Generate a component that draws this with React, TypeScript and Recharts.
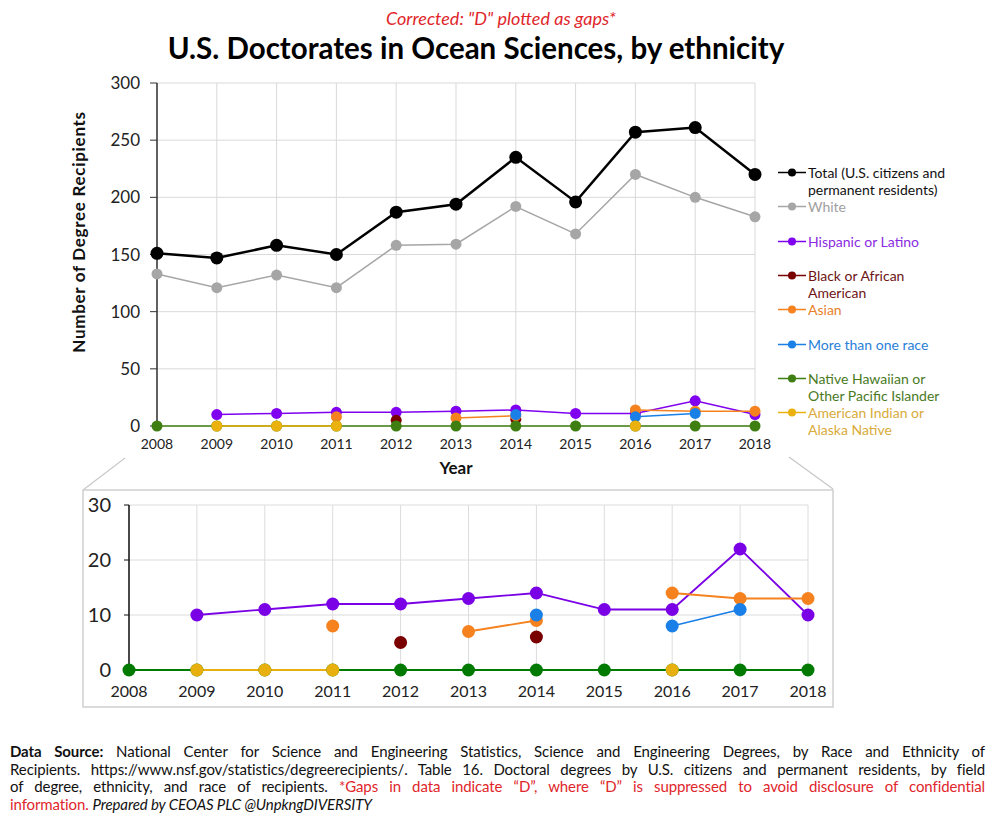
import React from 'react';
import { LineChart, Line, XAxis, YAxis, CartesianGrid, Label } from 'recharts';

const years = [2008, 2009, 2010, 2011, 2012, 2013, 2014, 2015, 2016, 2017, 2018];
const total = [151, 147, 158, 150, 187, 194, 235, 196, 257, 261, 220];
const white = [133, 121, 132, 121, 158, 159, 192, 168, 220, 200, 183];
const hispanic = [null, 10, 11, 12, 12, 13, 14, 11, 11, 22, 10];
const black = [null, null, null, null, 5, null, 6, null, null, null, null];
const asian = [null, null, null, 8, null, 7, 9, null, 14, 13, 13];
const multiRace = [null, null, null, null, null, null, 10, null, 8, 11, null];
const hawaiian = [0, 0, 0, 0, 0, 0, 0, 0, 0, 0, 0];
const amIndian = [null, 0, 0, 0, null, null, null, null, 0, null, null];

const topTicks = [0, 50, 100, 150, 200, 250, 300];
const zoomTicks = [0, 10, 20, 30];

const FONT = 'Lato, "Open Sans", sans-serif';

// series: key, legend label lines, line colour, legend text colour
const SERIES = [
  { key: 'total', label: ['Total (U.S. citizens and', 'permanent residents)'], color: '#000000', text: '#111111', width: 2.5 },
  { key: 'white', label: ['White'], color: '#a6a6a6', text: '#a0a0a0', width: 1.5 },
  { key: 'hispanic', label: ['Hispanic or Latino'], color: '#8000f0', text: '#8a2be2', width: 1.5 },
  { key: 'black', label: ['Black or African', 'American'], color: '#7a0000', text: '#6e1414', width: 1.5 },
  { key: 'asian', label: ['Asian'], color: '#f5821f', text: '#e8802a', width: 1.5 },
  { key: 'multi', label: ['More than one race'], color: '#1a7fe6', text: '#2a7fd8', width: 1.5 },
  { key: 'hawaiian', label: ['Native Hawaiian or', 'Other Pacific Islander'], color: '#3f7f12', text: '#4a7a1e', width: 1.5 },
  { key: 'amIndian', label: ['American Indian or', 'Alaska Native'], color: '#ebb20f', text: '#d8ab3a', width: 1.5 },
];

const rows = years.map((year, i) => ({
  year,
  total: total[i],
  white: white[i],
  hispanic: hispanic[i],
  black: black[i],
  asian: asian[i],
  multi: multiRace[i],
  hawaiian: hawaiian[i],
  amIndian: amIndian[i],
}));

const zoomColors: { [k: string]: string } = {
  hispanic: '#7a00e6',
  black: '#7a0000',
  asian: '#f5821f',
  multi: '#1a7fe6',
  hawaiian: '#007a00',
  amIndian: '#e8b00f',
};

const YTitle = (props: any) => {
  const { viewBox } = props;
  const x = viewBox.x - 19;
  const y = 232;
  return (
    <text x={x} y={y} transform={`rotate(-90 ${x} ${y})`} textAnchor="middle" dominantBaseline="central"
      fontFamily={FONT} fontWeight={700} fontSize={17} letterSpacing={0.7} fill="#111">
      Number of Degree Recipients
    </text>
  );
};

const XTitle = (props: any) => {
  const { viewBox } = props;
  const x = viewBox.x + viewBox.width / 2;
  const y = viewBox.y + 41;
  return (
    <text x={x} y={y} textAnchor="middle" dominantBaseline="central" fontFamily={FONT} fontWeight={700} fontSize={17} fill="#111">
      Year
    </text>
  );
};

export default function App() {
  return (
    <div style={{ position: 'absolute', left: 0, top: 0, width: 1000, height: 820, background: '#fff', fontFamily: FONT, overflow: 'hidden' }}>
      <div style={{ position: 'absolute', left: 0, width: 1002, top: 7, textAlign: 'center', color: '#e0262b', fontStyle: 'italic', fontSize: 18, lineHeight: '22px' }}>
        Corrected: "D" plotted as gaps*
      </div>
      <div style={{ position: 'absolute', left: 0, width: 952, top: 31, textAlign: 'center', color: '#000', fontWeight: 700, fontSize: 29.5, lineHeight: '34px' }}>
        U.S. Doctorates in Ocean Sciences, by ethnicity
      </div>

      {/* zoom box and connector lines */}
      <svg width={1000} height={820} style={{ position: 'absolute', left: 0, top: 0 }}>
        <line x1={83} y1={490} x2={125} y2={458} stroke="#c8c8c8" strokeWidth={1.2} />
        <line x1={789} y1={457} x2={833} y2={489} stroke="#c8c8c8" strokeWidth={1.2} />
        <rect x={83} y={490} width={750} height={217} fill="none" stroke="#cfcfcf" strokeWidth={1.5} />
      </svg>

      <div style={{ position: 'absolute', left: 0, top: 0 }}>
        <LineChart width={1000} height={480} data={rows} margin={{ top: 83, right: 245, left: 97, bottom: 24 }}>
          <CartesianGrid stroke="#d9d9d9" strokeWidth={1} />
          <XAxis type="number" dataKey="year" domain={[2008, 2018]} ticks={years} axisLine={false} tickLine={false}
            tickSize={6} tickMargin={7} height={30} tick={{ fontSize: 14, fill: '#222', fontFamily: FONT }}>
            <Label content={<XTitle />} />
          </XAxis>
          <YAxis domain={[0, 300]} ticks={topTicks} width={60} stroke="#333" tickSize={7} tickMargin={10}
            tick={{ fontSize: 17, fill: '#222', fontFamily: FONT }} axisLine={{ stroke: '#333', strokeWidth: 1.5 }}>
            <Label content={<YTitle />} />
          </YAxis>
          {SERIES.map((s) => (
            <Line key={s.key} dataKey={s.key} stroke={s.color} strokeWidth={s.width} isAnimationActive={false}
              dot={{ r: s.key === 'total' ? 6.5 : 5.5, fill: s.color, stroke: s.color, strokeWidth: 0 }} activeDot={false} />
          ))}
        </LineChart>
      </div>

      <div style={{ position: 'absolute', left: 0, top: 480 }}>
        <LineChart width={1000} height={240} data={rows} margin={{ top: 25, right: 192, left: 69, bottom: 20 }}>
          <CartesianGrid stroke="#dcdcdc" strokeWidth={1} />
          <XAxis type="number" dataKey="year" domain={[2008, 2018]} ticks={years} axisLine={false} tickLine={false}
            tickSize={6} tickMargin={10} height={30} tick={{ fontSize: 16, fill: '#222', fontFamily: FONT }} />
          <YAxis domain={[0, 30]} ticks={zoomTicks} width={60} stroke="#111" tickSize={5} tickMargin={13}
            tick={{ fontSize: 20, fill: '#222', fontFamily: FONT }} axisLine={{ stroke: '#111', strokeWidth: 1.5 }} />
          {SERIES.filter((s) => zoomColors[s.key]).map((s) => (
            <Line key={s.key} dataKey={s.key} stroke={zoomColors[s.key]} strokeWidth={1.8} isAnimationActive={false}
              dot={{ r: 6.5, fill: zoomColors[s.key], stroke: zoomColors[s.key], strokeWidth: 0 }} activeDot={false} />
          ))}
        </LineChart>
      </div>

      {/* legend */}
      {SERIES.map((s, i) => (
        <div key={s.key} style={{ position: 'absolute', left: 778, top: 164 + i * 34.3, fontSize: 14, lineHeight: '17px', color: s.text }}>
          <svg width={28} height={17} style={{ position: 'absolute', left: 0, top: 0 }}>
            <line x1={0} y1={8.5} x2={28} y2={8.5} stroke={s.color} strokeWidth={1.5} />
            <circle cx={14} cy={8.5} r={4} fill={s.color} />
          </svg>
          <div style={{ marginLeft: 30, whiteSpace: 'nowrap' }}>
            {s.label.map((t) => (
              <div key={t}>{t}</div>
            ))}
          </div>
        </div>
      ))}

      {/* footer */}
      <div style={{ position: 'absolute', left: 10, top: 743, width: 975, fontSize: 15, lineHeight: '17.6px', color: '#111', letterSpacing: -0.1, whiteSpace: 'nowrap' }}>
        <div style={{ textAlign: 'justify', textAlignLast: 'justify' }}>
          <b>Data Source:</b> National Center for Science and Engineering Statistics, Science and Engineering Degrees, by Race and Ethnicity of
        </div>
        <div style={{ textAlign: 'justify', textAlignLast: 'justify' }}>
          Recipients. https://www.nsf.gov/statistics/degreerecipients/. Table 16. Doctoral degrees by U.S. citizens and permanent residents, by field
        </div>
        <div style={{ textAlign: 'justify', textAlignLast: 'justify' }}>
          of degree, ethnicity, and race of recipients. <span style={{ color: '#e0262b' }}>*Gaps in data indicate “D”, where “D” is suppressed to avoid disclosure of confidential</span>
        </div>
        <div>
          <span style={{ color: '#e0262b' }}>information.</span> <i>Prepared by CEOAS PLC @UnpkngDIVERSITY</i>
        </div>
      </div>
    </div>
  );
}
